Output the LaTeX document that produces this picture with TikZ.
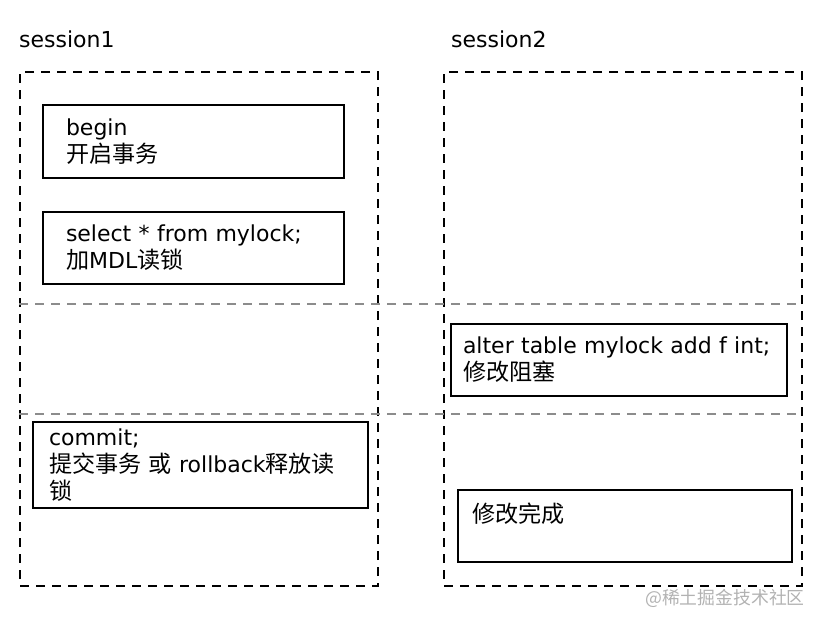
\documentclass[tikz,border=0pt]{standalone}
\usepackage{fontspec}
\setmainfont{DejaVu Sans}
\newfontfamily\cjk{Noto Sans CJK SC}[Scale=1.05]
\usetikzlibrary{positioning}

\begin{document}
\begin{tikzpicture}[
  x=1pt, y=-1pt,
  frame/.style={draw, dash pattern=on 9pt off 7pt, line width=2pt, minimum width=358pt, minimum height=514pt, anchor=north west, inner sep=0pt},
  cut/.style={draw=gray!90, dash pattern=on 9pt off 7pt, line width=2pt},
  stepbox/.style={rectangle, draw, line width=2pt, anchor=north west, align=left, inner ysep=0pt, font=\fontsize{22}{27}\selectfont},
  title/.style={anchor=base west, inner sep=0pt, font=\fontsize{22}{27}\selectfont}
]
\useasboundingbox (0,0) rectangle (824,626);

% Session frames
\node[frame] (s1frame) at (19,71) {};
\node[frame] (s2frame) at (443,71) {};
\node[title] (s1title) at (19,48) {session1};
\node[title] (s2title) at (451,48) {session2};

% Time slices
\coordinate (cut1l) at (19,304);
\coordinate (cut1r) at (801,304);
\coordinate (cut2l) at (19,414);
\coordinate (cut2r) at (801,414);
\draw[cut] (cut1l) -- (cut1r);
\draw[cut] (cut2l) -- (cut2r);

% Session1 steps
\node[stepbox, minimum width=301pt, minimum height=73pt, inner xsep=23pt, text width=255pt] (begin) at (42,104) {begin\\{\cjk 开启事务}};
\node[stepbox, minimum width=301pt, minimum height=72pt, inner xsep=23pt, text width=255pt] (select) at (42,211) {select * from mylock;\\{\cjk 加}MDL{\cjk 读锁}};
\node[stepbox, minimum width=335pt, minimum height=86pt, inner xsep=16pt, text width=303pt] (commit) at (32,421) {commit;\\{\cjk 提交事务} {\cjk 或} rollback{\cjk 释放读}\\{\cjk 锁}};

% Session2 steps
\node[stepbox, minimum width=336pt, minimum height=72pt, inner xsep=12pt, text width=312pt] (alter) at (450,323) {alter table mylock add f int;\\{\cjk 修改阻塞}};
\node[stepbox, minimum width=334pt, minimum height=72pt, inner xsep=14pt, text width=306pt] (done) at (457,489) {{\cjk 修改完成}\\\mbox{}};

% Watermark
\node[anchor=base east, inner sep=0pt, text=gray!60, font=\cjk\fontsize{17}{20}\selectfont] (mark) at (805,604) {@稀土掘金技术社区};

\end{tikzpicture}
\end{document}
